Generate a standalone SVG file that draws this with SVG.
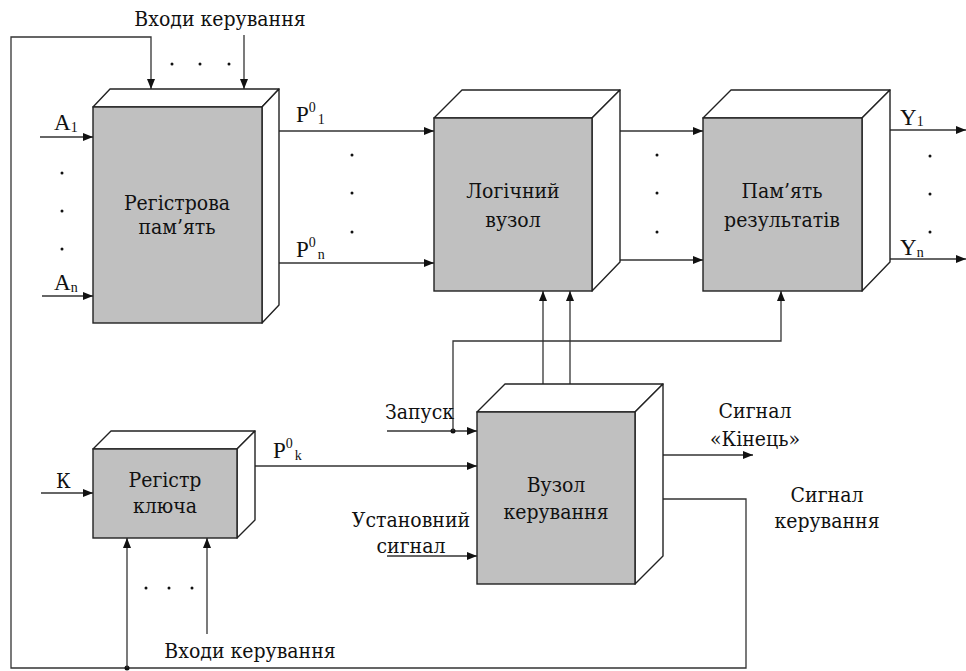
<svg xmlns="http://www.w3.org/2000/svg" width="966" height="671" viewBox="0 0 966 671">
<style>
.t{font-family:'DejaVu Serif Condensed','Liberation Serif',serif;font-size:21px;fill:#111}
.l{font-family:'Liberation Serif',serif;font-size:23px;fill:#111}
.c{text-anchor:middle}
.s{font-size:14px}
.front{fill:#c0c0c0;stroke:#222;stroke-width:1.4}
.face{fill:#fff;stroke:#222;stroke-width:1.4;stroke-linejoin:round}
.w{fill:none;stroke:#333;stroke-width:1.3}
.a{marker-end:url(#ah)}
.d{fill:#111}
</style>
<defs>
<marker id="ah" markerUnits="userSpaceOnUse" markerWidth="10" markerHeight="8" refX="10" refY="4" orient="auto">
<path d="M0,0 L10,4 L0,8 z" fill="#111"/>
</marker>
</defs>
<rect width="966" height="671" fill="#fff"/>

<g id="connectors">
<path class="w a" d="M663,499 H746 V668 H11 V37 H151 V89"/>
<circle class="d" cx="127" cy="668" r="2.5"/>
<path class="w a" d="M127,668 V538"/>
<path class="w a" d="M244,35 V89"/>
<path class="w a" d="M40,137 H93"/>
<path class="w a" d="M42,296 H93"/>
<path class="w a" d="M270,131 H434"/>
<path class="w a" d="M270,263 H434"/>
<path class="w a" d="M608,131 H703"/>
<path class="w a" d="M608,260 H703"/>
<path class="w a" d="M874,130 H966"/>
<path class="w a" d="M874,259 H966"/>
<path class="w a" d="M41,493 H93"/>
<path class="w a" d="M248,466 H477"/>
<path class="w a" d="M207,634 V538"/>
<path class="w a" d="M543,402 V291"/>
<path class="w a" d="M570,402 V291"/>
<path class="w a" d="M387,431 H477"/>
<circle class="d" cx="453" cy="431" r="2.5"/>
<path class="w a" d="M453,431 V341 H781 V291"/>
<path class="w a" d="M387,556 H477"/>
<path class="w a" d="M663,455 H753"/>
</g>

<g id="reg">
<polygon class="face" points="93,107 110,89 279,89 262,107"/>
<polygon class="face" points="262,107 279,89 279,305 262,323"/>
<rect class="front" x="93" y="107" width="169" height="216"/>
<text class="t c" x="177" y="210">Регістрова</text>
<text class="t c" x="177" y="234">пам’ять</text>
</g>

<g id="logic">
<polygon class="face" points="434,118 462,90 620,90 592,118"/>
<polygon class="face" points="592,118 620,90 620,262 592,291"/>
<rect class="front" x="434" y="118" width="158" height="173"/>
<text class="t c" x="513" y="198">Логічний</text>
<text class="t c" x="513" y="227">вузол</text>
</g>

<g id="mem">
<polygon class="face" points="703,118 731,90 890,90 862,118"/>
<polygon class="face" points="862,118 890,90 890,262 862,291"/>
<rect class="front" x="703" y="118" width="159" height="173"/>
<text class="t c" x="782" y="198">Пам’ять</text>
<text class="t c" x="782" y="227">результатів</text>
</g>

<g id="key">
<polygon class="face" points="93,449 111,431 255,431 237,449"/>
<polygon class="face" points="237,449 255,431 255,520 237,538"/>
<rect class="front" x="93" y="449" width="144" height="89"/>
<text class="t c" x="165" y="487">Регістр</text>
<text class="t c" x="165" y="513">ключа</text>
</g>

<g id="ctrl">
<polygon class="face" points="477,412 505,384 663,384 635,412"/>
<polygon class="face" points="635,412 663,384 663,556 635,584"/>
<rect class="front" x="477" y="412" width="158" height="172"/>
<text class="t c" x="556" y="492">Вузол</text>
<text class="t c" x="556" y="519">керування</text>
</g>

<g id="labels">
<text class="t c" x="220" y="26">Входи керування</text>
<circle class="d" cx="172" cy="64" r="1.5"/><circle class="d" cx="200" cy="64" r="1.5"/><circle class="d" cx="229" cy="64" r="1.5"/>
<text class="l" x="54" y="130">A<tspan class="s" dy="2">1</tspan></text>
<circle class="d" cx="62" cy="173" r="1.5"/><circle class="d" cx="62" cy="211" r="1.5"/><circle class="d" cx="62" cy="249" r="1.5"/>
<text class="l" x="54" y="290">A<tspan class="s" dy="2">n</tspan></text>
<text class="l" x="296" y="122">P<tspan class="s" dy="-10">0</tspan><tspan class="s" dx="2" dy="12">1</tspan></text>
<text class="l" x="296" y="257">P<tspan class="s" dy="-10">0</tspan><tspan class="s" dx="2" dy="12">n</tspan></text>
<circle class="d" cx="352" cy="155" r="1.5"/><circle class="d" cx="352" cy="193" r="1.5"/><circle class="d" cx="352" cy="232" r="1.5"/>
<circle class="d" cx="657" cy="155" r="1.5"/><circle class="d" cx="657" cy="193" r="1.5"/><circle class="d" cx="657" cy="232" r="1.5"/>
<text class="l" x="900" y="125">Y<tspan class="s" dy="1">1</tspan></text>
<text class="l" x="900" y="255">Y<tspan class="s" dy="2">n</tspan></text>
<circle class="d" cx="930" cy="156" r="1.5"/><circle class="d" cx="930" cy="194" r="1.5"/><circle class="d" cx="930" cy="232" r="1.5"/>
<text class="t" x="56" y="488">К</text>
<text class="l" x="273" y="458">P<tspan class="s" dy="-10">0</tspan><tspan class="s" dx="2" dy="12">k</tspan></text>
<circle class="d" cx="146" cy="588" r="1.5"/><circle class="d" cx="169" cy="588" r="1.5"/><circle class="d" cx="192" cy="588" r="1.5"/>
<text class="t c" x="250" y="658">Входи керування</text>
<text class="t" x="385" y="419">Запуск</text>
<text class="t c" x="411" y="527">Установний</text>
<text class="t c" x="411" y="553">сигнал</text>
<text class="t c" x="755" y="418">Сигнал</text>
<text class="t c" x="755" y="446">«Кінець»</text>
<text class="t c" x="827" y="502">Сигнал</text>
<text class="t c" x="827" y="528">керування</text>
</g>
</svg>
